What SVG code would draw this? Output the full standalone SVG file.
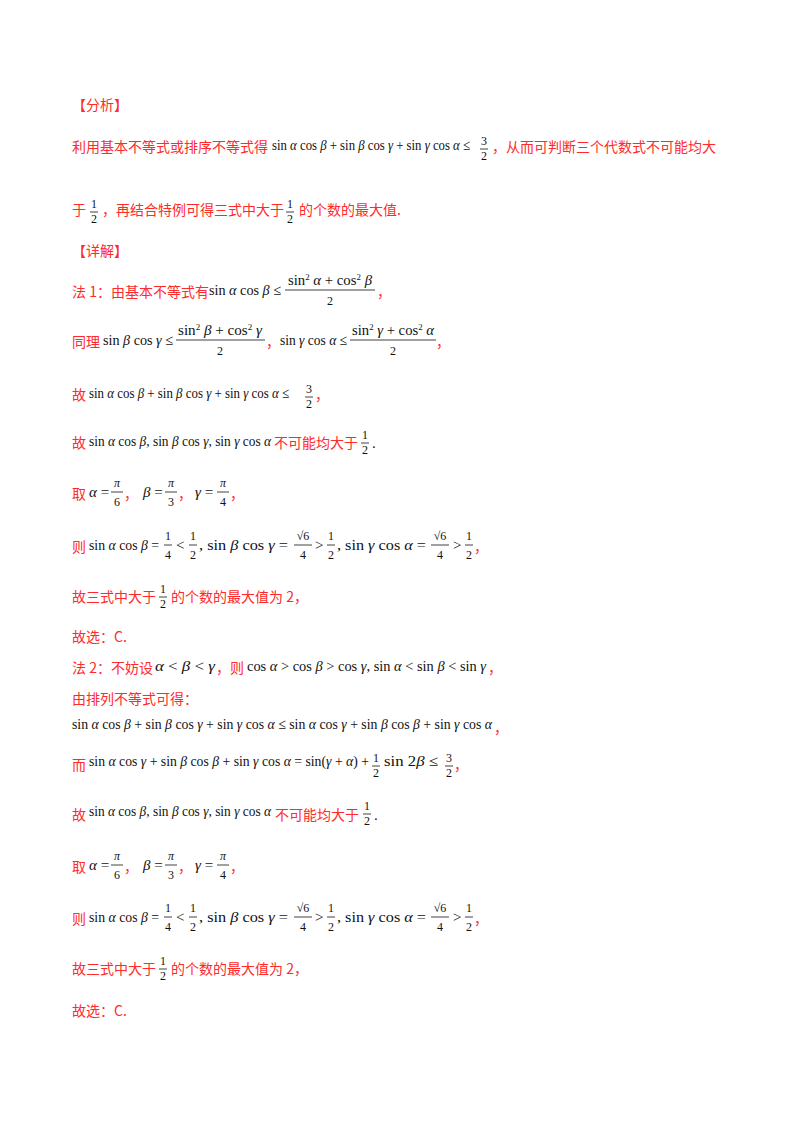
<svg xmlns="http://www.w3.org/2000/svg" width="800" height="1132" viewBox="0 0 800 1132">
<style>
.r{font-family:"Noto Sans CJK SC","Noto Sans",sans-serif;font-size:14px;fill:#ff2a2a}
.m{font-family:"Liberation Serif",serif;font-size:15px;fill:#111}
.i{font-style:italic}
.f{font-family:"Liberation Serif",serif;font-size:12px;fill:#111;text-anchor:middle}
.fb{stroke:#111;stroke-width:0.8}
</style>
<rect width="800" height="1132" fill="#fff"/>
<defs>
<g id="h"><text class="f" y="-5">1</text><line class="fb" x1="-4" x2="4" y1="-1" y2="-1"/><text class="f" y="10">2</text></g>
<g id="t"><text class="f" y="-5">3</text><line class="fb" x1="-4" x2="4" y1="-1" y2="-1"/><text class="f" y="10">2</text></g>
</defs>

<text class="r" x="72" y="110">【分析】</text>
<text class="r" x="72" y="152">利用基本不等式或排序不等式得</text>
<text class="m" x="272" y="150" textLength="198" lengthAdjust="spacingAndGlyphs">sin <tspan class="i">α</tspan> cos <tspan class="i">β</tspan> + sin <tspan class="i">β</tspan> cos <tspan class="i">γ</tspan> + sin <tspan class="i">γ</tspan> cos <tspan class="i">α</tspan> ≤</text>
<use href="#t" x="484" y="150"/>
<text class="r" x="492" y="152">，从而可判断三个代数式不可能均大</text>

<text class="r" x="72" y="215">于</text>
<use href="#h" x="94" y="213"/>
<text class="r" x="102" y="215">，再结合特例可得三式中大于</text>
<use href="#h" x="290" y="213"/>
<text class="r" x="299" y="215">的个数的最大值.</text>

<text class="r" x="72" y="256">【详解】</text>

<text class="r" x="72" y="297">法 1：由基本不等式有</text>
<text class="m" x="209" y="295" textLength="72" lengthAdjust="spacingAndGlyphs">sin <tspan class="i">α</tspan> cos <tspan class="i">β</tspan> ≤</text>
<text class="m" x="288" y="285" textLength="84" lengthAdjust="spacingAndGlyphs">sin<tspan font-size="9" dy="-5">2</tspan><tspan dy="5"> </tspan><tspan class="i">α</tspan> + cos<tspan font-size="9" dy="-5">2</tspan><tspan dy="5"> </tspan><tspan class="i">β</tspan></text>
<line class="fb" x1="285" x2="375" y1="290" y2="290"/>
<text class="f" x="330" y="305">2</text>
<text class="r" x="377" y="297">，</text>

<text class="r" x="72" y="347">同理</text>
<text class="m" x="103" y="345" textLength="70" lengthAdjust="spacingAndGlyphs">sin <tspan class="i">β</tspan> cos <tspan class="i">γ</tspan> ≤</text>
<text class="m" x="178" y="335" textLength="84" lengthAdjust="spacingAndGlyphs">sin<tspan font-size="9" dy="-5">2</tspan><tspan dy="5"> </tspan><tspan class="i">β</tspan> + cos<tspan font-size="9" dy="-5">2</tspan><tspan dy="5"> </tspan><tspan class="i">γ</tspan></text>
<line class="fb" x1="176" x2="265" y1="340" y2="340"/>
<text class="f" x="220" y="355">2</text>
<text class="r" x="266" y="347">，</text>
<text class="m" x="280" y="345" textLength="67" lengthAdjust="spacingAndGlyphs">sin <tspan class="i">γ</tspan> cos <tspan class="i">α</tspan> ≤</text>
<text class="m" x="352" y="335" textLength="82" lengthAdjust="spacingAndGlyphs">sin<tspan font-size="9" dy="-5">2</tspan><tspan dy="5"> </tspan><tspan class="i">γ</tspan> + cos<tspan font-size="9" dy="-5">2</tspan><tspan dy="5"> </tspan><tspan class="i">α</tspan></text>
<line class="fb" x1="350" x2="436" y1="340" y2="340"/>
<text class="f" x="393" y="355">2</text>
<text class="r" x="436" y="347">，</text>

<text class="r" x="72" y="400">故</text>
<text class="m" x="89" y="398" textLength="200" lengthAdjust="spacingAndGlyphs">sin <tspan class="i">α</tspan> cos <tspan class="i">β</tspan> + sin <tspan class="i">β</tspan> cos <tspan class="i">γ</tspan> + sin <tspan class="i">γ</tspan> cos <tspan class="i">α</tspan> ≤</text>
<use href="#t" x="309" y="398"/>
<text class="r" x="315" y="400">，</text>

<text class="r" x="72" y="448">故</text>
<text class="m" x="89" y="446" textLength="182" lengthAdjust="spacingAndGlyphs">sin <tspan class="i">α</tspan> cos <tspan class="i">β</tspan>, sin <tspan class="i">β</tspan> cos <tspan class="i">γ</tspan>, sin <tspan class="i">γ</tspan> cos <tspan class="i">α</tspan></text>
<text class="r" x="274" y="448">不可能均大于</text>
<use href="#h" x="365" y="444"/>
<text class="m" x="372" y="448">.</text>

<g id="qu1">
<text class="r" x="72" y="499">取</text>
<text class="m" x="89" y="497"><tspan class="i">α</tspan> =</text>
<text class="f" x="117" y="487" font-style="italic">π</text><line class="fb" x1="111" x2="123" y1="492" y2="492"/><text class="f" x="117" y="506">6</text>
<text class="r" x="124" y="499">，</text>
<text class="m" x="143" y="497"><tspan class="i">β</tspan> =</text>
<text class="f" x="171" y="487" font-style="italic">π</text><line class="fb" x1="165" x2="177" y1="492" y2="492"/><text class="f" x="171" y="506">3</text>
<text class="r" x="178" y="499">，</text>
<text class="m" x="195" y="497"><tspan class="i">γ</tspan> =</text>
<text class="f" x="223" y="487" font-style="italic">π</text><line class="fb" x1="217" x2="229" y1="492" y2="492"/><text class="f" x="223" y="506">4</text>
<text class="r" x="230" y="499">，</text>
</g>

<g id="ze1">
<text class="r" x="72" y="552">则</text>
<text class="m" x="89" y="550" textLength="70" lengthAdjust="spacingAndGlyphs">sin <tspan class="i">α</tspan> cos <tspan class="i">β</tspan> =</text>
<text class="f" x="168" y="540">1</text><line class="fb" x1="164" x2="172" y1="545" y2="545"/><text class="f" x="168" y="559">4</text>
<text class="m" x="176" y="550">&lt;</text>
<text class="f" x="193" y="540">1</text><line class="fb" x1="189" x2="197" y1="545" y2="545"/><text class="f" x="193" y="559">2</text>
<text class="m" x="199" y="550" textLength="89" lengthAdjust="spacingAndGlyphs">, sin <tspan class="i">β</tspan> cos <tspan class="i">γ</tspan> =</text>
<text class="f" x="303" y="540">√6</text><line class="fb" x1="294" x2="312" y1="545" y2="545"/><text class="f" x="303" y="559">4</text>
<text class="m" x="315" y="550">&gt;</text>
<text class="f" x="331" y="540">1</text><line class="fb" x1="327" x2="335" y1="545" y2="545"/><text class="f" x="331" y="559">2</text>
<text class="m" x="337" y="550" textLength="89" lengthAdjust="spacingAndGlyphs">, sin <tspan class="i">γ</tspan> cos <tspan class="i">α</tspan> =</text>
<text class="f" x="440" y="540">√6</text><line class="fb" x1="431" x2="449" y1="545" y2="545"/><text class="f" x="440" y="559">4</text>
<text class="m" x="453" y="550">&gt;</text>
<text class="f" x="469" y="540">1</text><line class="fb" x1="465" x2="473" y1="545" y2="545"/><text class="f" x="469" y="559">2</text>
<text class="r" x="474" y="552">，</text>
</g>

<text class="r" x="72" y="602">故三式中大于</text>
<use href="#h" x="163" y="598"/>
<text class="r" x="171" y="602">的个数的最大值为 2，</text>

<text class="r" x="72" y="642">故选：C.</text>

<text class="r" x="72" y="673">法 2：不妨设</text>
<text class="m" x="155" y="671" textLength="60" lengthAdjust="spacingAndGlyphs"><tspan class="i">α</tspan> &lt; <tspan class="i">β</tspan> &lt; <tspan class="i">γ</tspan></text>
<text class="r" x="216" y="673">，则</text>
<text class="m" x="247" y="671" textLength="239" lengthAdjust="spacingAndGlyphs">cos <tspan class="i">α</tspan> &gt; cos <tspan class="i">β</tspan> &gt; cos <tspan class="i">γ</tspan>, sin <tspan class="i">α</tspan> &lt; sin <tspan class="i">β</tspan> &lt; sin <tspan class="i">γ</tspan></text>
<text class="r" x="488" y="673">，</text>

<text class="r" x="72" y="704">由排列不等式可得：</text>

<text class="m" x="72" y="729" textLength="420" lengthAdjust="spacingAndGlyphs">sin <tspan class="i">α</tspan> cos <tspan class="i">β</tspan> + sin <tspan class="i">β</tspan> cos <tspan class="i">γ</tspan> + sin <tspan class="i">γ</tspan> cos <tspan class="i">α</tspan> ≤ sin <tspan class="i">α</tspan> cos <tspan class="i">γ</tspan> + sin <tspan class="i">β</tspan> cos <tspan class="i">β</tspan> + sin <tspan class="i">γ</tspan> cos <tspan class="i">α</tspan></text>
<text class="r" x="494" y="733">，</text>

<text class="r" x="72" y="770">而</text>
<text class="m" x="89" y="766" textLength="280" lengthAdjust="spacingAndGlyphs">sin <tspan class="i">α</tspan> cos <tspan class="i">γ</tspan> + sin <tspan class="i">β</tspan> cos <tspan class="i">β</tspan> + sin <tspan class="i">γ</tspan> cos <tspan class="i">α</tspan> = sin(<tspan class="i">γ</tspan> + <tspan class="i">α</tspan>) +</text>
<use href="#h" x="376" y="767"/>
<text class="m" x="384" y="766" textLength="54" lengthAdjust="spacingAndGlyphs">sin 2<tspan class="i">β</tspan> ≤</text>
<use href="#t" x="449" y="767"/>
<text class="r" x="454" y="770">，</text>

<text class="r" x="72" y="820">故</text>
<text class="m" x="89" y="816" textLength="182" lengthAdjust="spacingAndGlyphs">sin <tspan class="i">α</tspan> cos <tspan class="i">β</tspan>, sin <tspan class="i">β</tspan> cos <tspan class="i">γ</tspan>, sin <tspan class="i">γ</tspan> cos <tspan class="i">α</tspan></text>
<text class="r" x="275" y="820">不可能均大于</text>
<use href="#h" x="367" y="815"/>
<text class="m" x="374" y="820">.</text>

<g id="qu2" transform="translate(0,373)">
<text class="r" x="72" y="499">取</text>
<text class="m" x="89" y="497"><tspan class="i">α</tspan> =</text>
<text class="f" x="117" y="487" font-style="italic">π</text><line class="fb" x1="111" x2="123" y1="492" y2="492"/><text class="f" x="117" y="506">6</text>
<text class="r" x="124" y="499">，</text>
<text class="m" x="143" y="497"><tspan class="i">β</tspan> =</text>
<text class="f" x="171" y="487" font-style="italic">π</text><line class="fb" x1="165" x2="177" y1="492" y2="492"/><text class="f" x="171" y="506">3</text>
<text class="r" x="178" y="499">，</text>
<text class="m" x="195" y="497"><tspan class="i">γ</tspan> =</text>
<text class="f" x="223" y="487" font-style="italic">π</text><line class="fb" x1="217" x2="229" y1="492" y2="492"/><text class="f" x="223" y="506">4</text>
<text class="r" x="230" y="499">，</text>
</g>

<g id="ze2" transform="translate(0,372)">
<text class="r" x="72" y="552">则</text>
<text class="m" x="89" y="550" textLength="70" lengthAdjust="spacingAndGlyphs">sin <tspan class="i">α</tspan> cos <tspan class="i">β</tspan> =</text>
<text class="f" x="168" y="540">1</text><line class="fb" x1="164" x2="172" y1="545" y2="545"/><text class="f" x="168" y="559">4</text>
<text class="m" x="176" y="550">&lt;</text>
<text class="f" x="193" y="540">1</text><line class="fb" x1="189" x2="197" y1="545" y2="545"/><text class="f" x="193" y="559">2</text>
<text class="m" x="199" y="550" textLength="89" lengthAdjust="spacingAndGlyphs">, sin <tspan class="i">β</tspan> cos <tspan class="i">γ</tspan> =</text>
<text class="f" x="303" y="540">√6</text><line class="fb" x1="294" x2="312" y1="545" y2="545"/><text class="f" x="303" y="559">4</text>
<text class="m" x="315" y="550">&gt;</text>
<text class="f" x="331" y="540">1</text><line class="fb" x1="327" x2="335" y1="545" y2="545"/><text class="f" x="331" y="559">2</text>
<text class="m" x="337" y="550" textLength="89" lengthAdjust="spacingAndGlyphs">, sin <tspan class="i">γ</tspan> cos <tspan class="i">α</tspan> =</text>
<text class="f" x="440" y="540">√6</text><line class="fb" x1="431" x2="449" y1="545" y2="545"/><text class="f" x="440" y="559">4</text>
<text class="m" x="453" y="550">&gt;</text>
<text class="f" x="469" y="540">1</text><line class="fb" x1="465" x2="473" y1="545" y2="545"/><text class="f" x="469" y="559">2</text>
<text class="r" x="474" y="552">，</text>
</g>

<text class="r" x="72" y="974">故三式中大于</text>
<use href="#h" x="163" y="970"/>
<text class="r" x="171" y="974">的个数的最大值为 2，</text>

<text class="r" x="72" y="1016">故选：C.</text>
</svg>
